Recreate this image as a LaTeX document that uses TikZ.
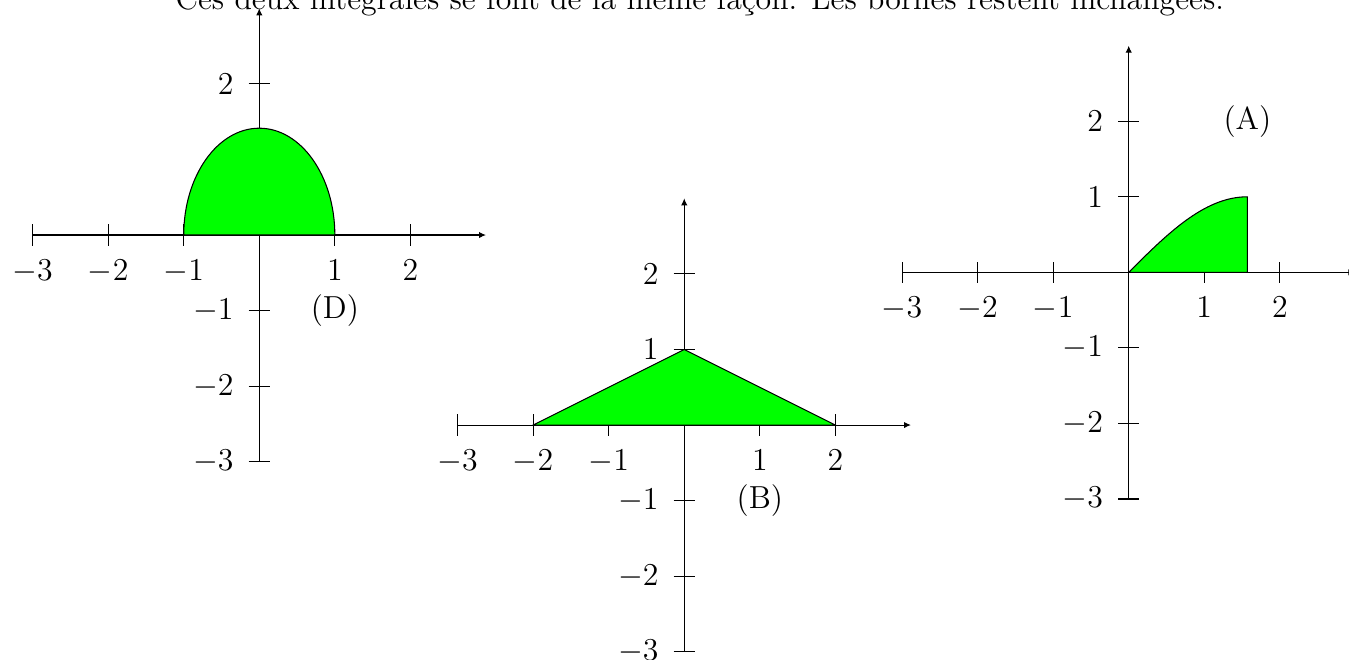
\documentclass[12pt,tikz,border=0pt]{standalone}
\usepackage{xcolor}
\usetikzlibrary{arrows.meta}
\tikzset{
  axe/.style={-{Latex[length=2.6pt, width=2.4pt]}},
  graduation/.style={},
  xlab/.style={anchor=north, inner sep=0pt},
  ylab/.style={anchor=east, inner sep=0pt},
  aire/.style={draw, fill=green},
  nom/.style={inner sep=0pt},
}
\def\T{0.14} % half length of a tick
% axes from -3 to 3, ticks and numbers; #1 prefixes the node names
\newcommand{\repere}[1]{%
  \draw[axe] (-3,0) -- (3,0);
  \draw[axe] (0,-3) -- (0,3);
  \foreach \k in {-3,-2,-1,1,2} {
    \draw[graduation] (\k,-\T) -- (\k,\T);
    \draw[graduation] (-\T,\k) -- (\T,\k);
    \node[xlab] (#1x\k) at (\k,-0.32) {$\k$};
    \node[ylab] (#1y\k) at (-0.335,\k) {$\k$};
  }}

\begin{document}
\begin{tikzpicture}
\useasboundingbox (-3.432,-5.625) rectangle (14.424,3.111);

\node[anchor=base] (titre) at (5.83,2.99)
  {Ces deux intégrales se font de la même façon. Les bornes restent inchangées.};

%% ── (D) : demi-ellipse ───────────────────────────────────────────────────
\begin{scope}
  \repere{D}
  \draw[aire] (1,0) arc[start angle=0, end angle=180,
    x radius=1, y radius=1.414] -- cycle;
  \node[nom] (lD) at (1,-1) {(D)};
\end{scope}

%% ── (B) : triangle ───────────────────────────────────────────────────────
\begin{scope}[shift={(5.625,-2.515)}]
  \repere{B}
  \draw[aire] (-2,0) -- (0,1) -- (2,0) -- cycle;
  \node[nom] (lB) at (1,-1) {(B)};
\end{scope}

%% ── (A) : sinus ──────────────────────────────────────────────────────────
\begin{scope}[shift={(11.508,-0.494)}]
  \repere{A}
  \draw[aire] (0,0) -- plot[domain=0:pi/2, samples=40] (\x,{sin(\x r)})
    -- (pi/2,0) -- cycle;
  \node[nom] (lA) at (pi/2,2) {(A)};
\end{scope}

\end{tikzpicture}
\end{document}
